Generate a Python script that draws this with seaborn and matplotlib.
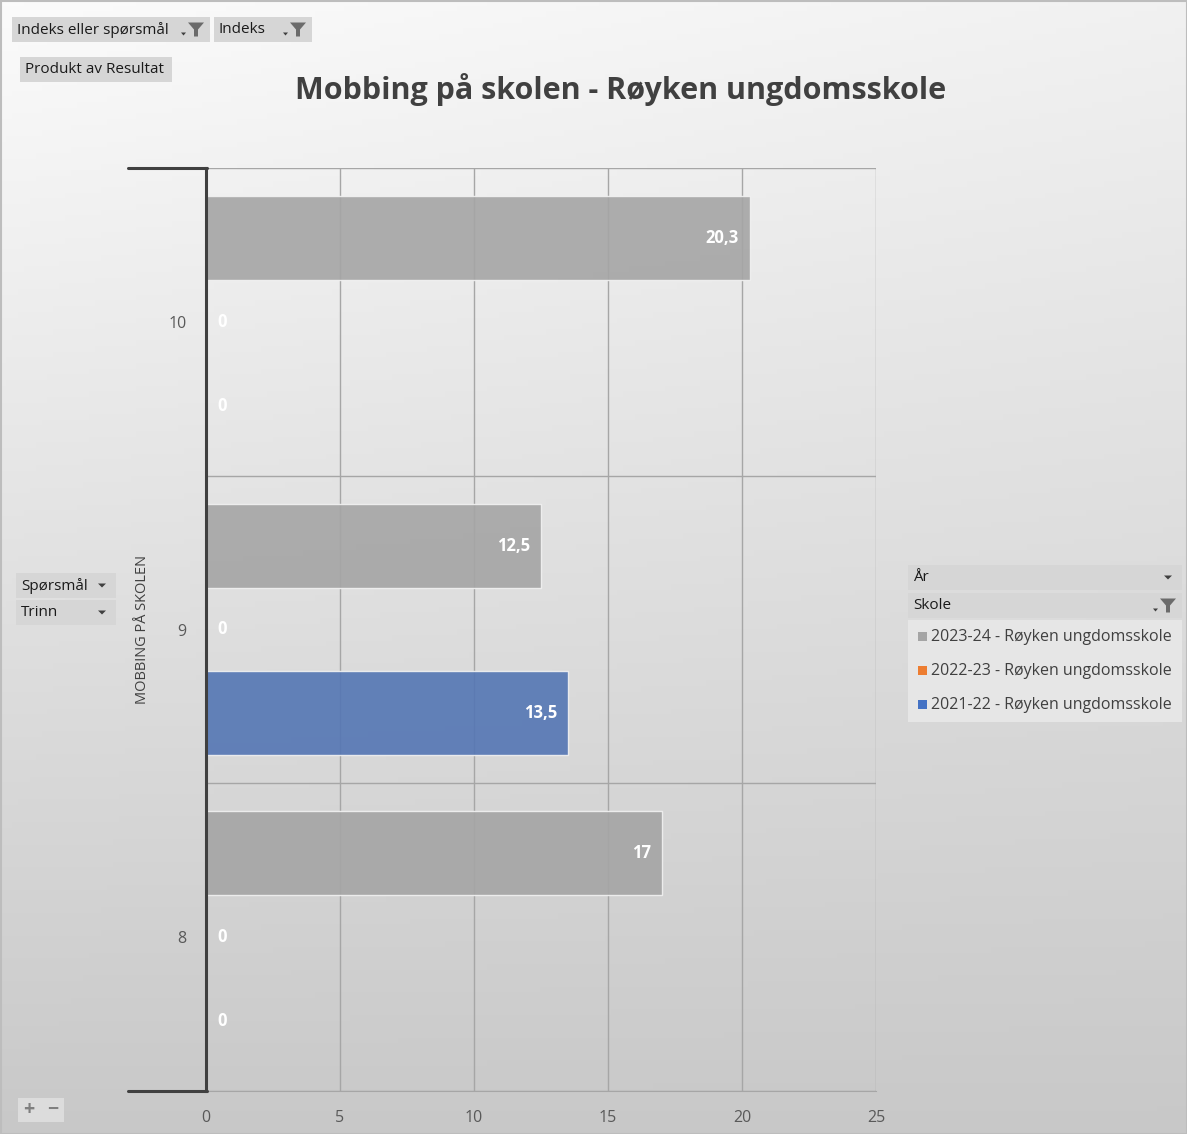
import matplotlib
matplotlib.use("Agg")
import matplotlib.pyplot as plt
import matplotlib.patches as mpatches
from matplotlib.lines import Line2D
import numpy as np
import pandas as pd
import seaborn as sns

# data
trinn = ["10", "9", "8"]
aar = ["2023-24 - Røyken ungdomsskole",
       "2022-23 - Røyken ungdomsskole",
       "2021-22 - Røyken ungdomsskole"]
verdi_2324 = [20.3, 12.5, 17]
verdi_2223 = [0, 0, 0]
verdi_2122 = [0, 13.5, 0]
farger = ["#a5a5a5", "#ed7d31", "#4472c4"]
x_ticks = [0, 5, 10, 15, 20, 25]

rows = []
for serie, vals in zip(aar, [verdi_2324, verdi_2223, verdi_2122]):
    for t, v in zip(trinn, vals):
        rows.append({"Trinn": t, "År": serie, "Verdi": v})
df = pd.DataFrame(rows)

sns.set_style("white")
plt.rcParams["font.family"] = ["Open Sans", "DejaVu Sans"]

W, H = 1187, 1134
fig = plt.figure(figsize=(W / 100, H / 100), dpi=100)

# gradient background (Excel style)
bg = fig.add_axes([0, 0, 1, 1], zorder=-10)
yy, xx = np.mgrid[0:1:200j, 0:1:200j]
val = 0.985 - 0.2 * yy - 0.04 * xx * (1 - yy)
bg.imshow(np.dstack([val, val, val]), extent=[0, 1, 0, 1], aspect="auto",
          origin="upper")
bg.set_axis_off()
fig.patches.append(mpatches.Rectangle((0.5 / W, 0.5 / H), 1 - 1 / W, 1 - 1 / H,
                                      transform=fig.transFigure, fill=False,
                                      edgecolor="#bdbdbd", lw=1.5))

def fx(px):
    return px / W

def fy(py):
    return 1 - py / H

ax = fig.add_axes([fx(206), fy(1091), (876 - 206) / W, (1091 - 168) / H])
ax.patch.set_alpha(0)

sns.barplot(data=df, y="Trinn", x="Verdi", hue="År", order=trinn,
            hue_order=aar, palette=farger, orient="h", width=0.818,
            dodge=True, ax=ax, legend=False, alpha=0.9,
            edgecolor="#f2f2f2", linewidth=1)

ax.set_xlim(0, 25)
ax.set_ylim(2.5, -0.5)
ax.set_xticks(x_ticks)
ax.set_xticklabels([str(t) for t in x_ticks])
ax.set_xlabel("")
ax.set_ylabel("")
ax.tick_params(axis="both", length=0, labelsize=11.5, labelcolor="#595959")
ax.tick_params(axis="x", pad=14)
ax.tick_params(axis="y", pad=14)
ax.set_axisbelow(True)
ax.grid(axis="x", color="#a6a6a6", lw=1)
for b in [-0.5, 0.5, 1.5, 2.5]:
    ax.axhline(b, color="#a6a6a6", lw=1, zorder=0.5)
for s in ["top", "right"]:
    ax.spines[s].set_visible(False)
ax.spines["bottom"].set_color("#a6a6a6")
ax.spines["left"].set_color("#404040")
ax.spines["left"].set_linewidth(2.2)
ax.spines["left"].set_zorder(5)

# bracket lines of the outer category level
for py in [168, 1091]:
    fig.add_artist(Line2D([fx(128), fx(207)], [fy(py), fy(py)],
                          color="#404040", lw=2.2))

# data labels, comma as decimal mark
for p in ax.patches:
    w = p.get_width()
    yc = p.get_y() + p.get_height() / 2
    txt = f"{w:g}".replace(".", ",")
    if w == 0:
        ax.annotate(txt, (0, yc), xytext=(11, 0), textcoords="offset pixels",
                    ha="left", va="center", color="white",
                    fontweight="bold", fontsize=12)
    else:
        ax.annotate(txt, (w, yc), xytext=(-11, 0), textcoords="offset pixels",
                    ha="right", va="center", color="white",
                    fontweight="bold", fontsize=12)

fig.text(fx(143), fy(630), "MOBBING PÅ SKOLEN", rotation=90, ha="center",
         va="center", fontsize=10.5, color="#404040")

fig.text(fx(621), fy(90), "Mobbing på skolen - Røyken ungdomsskole",
         ha="center", va="center", fontsize=22, fontweight="bold",
         color="#404040")

# pivot field buttons
def button(x0, y0, x1, y1, label, icon=None):
    fig.patches.append(mpatches.Rectangle((fx(x0), fy(y1)), fx(x1 - x0),
                                          (y1 - y0) / H,
                                          transform=fig.transFigure,
                                          facecolor="#d6d6d6", edgecolor="none"))
    fig.text(fx(x0 + 5), fy((y0 + y1) / 2), label, ha="left", va="center",
             fontsize=11, color="#1a1a1a", family=["Liberation Sans Narrow",
                                                   "Open Sans", "DejaVu Sans"])
    yc = (y0 + y1) / 2
    if icon == "filter":
        fx0 = x1 - 22
        fig.patches.append(mpatches.Polygon(
            [(fx(fx0), fy(yc - 7)), (fx(fx0 + 16), fy(yc - 7)),
             (fx(fx0 + 10), fy(yc)), (fx(fx0 + 10), fy(yc + 7)),
             (fx(fx0 + 6), fy(yc + 7)), (fx(fx0 + 6), fy(yc))],
            closed=True, transform=fig.transFigure, facecolor="#6b6b6b",
            edgecolor="none"))
        fig.patches.append(mpatches.Polygon(
            [(fx(fx0 - 7), fy(yc + 3)), (fx(fx0 - 2), fy(yc + 3)),
             (fx(fx0 - 4.5), fy(yc + 6))], closed=True,
            transform=fig.transFigure, facecolor="#404040", edgecolor="none"))
    elif icon == "arrow":
        ax0 = x1 - 18
        fig.patches.append(mpatches.Polygon(
            [(fx(ax0), fy(yc - 2)), (fx(ax0 + 8), fy(yc - 2)),
             (fx(ax0 + 4), fy(yc + 2))], closed=True,
            transform=fig.transFigure, facecolor="#404040", edgecolor="none"))

button(12, 17, 210, 42, "Indeks eller spørsmål", "filter")
button(214, 17, 312, 42, "Indeks", "filter")
button(20, 57, 172, 82, "Produkt av Resultat")
button(16, 573, 116, 598, "Spørsmål", "arrow")
button(16, 600, 116, 625, "Trinn", "arrow")
button(908, 565, 1182, 590, "År", "arrow")
button(908, 593, 1182, 618, "Skole", "filter")

# legend panel
fig.patches.append(mpatches.Rectangle((fx(908), fy(722)), fx(274), 102 / H,
                                      transform=fig.transFigure,
                                      facecolor="#e6e6e6", edgecolor="none"))
for i, (lab, c) in enumerate(zip(aar, farger)):
    ly = 637 + 34 * i
    fig.patches.append(mpatches.Rectangle((fx(918), fy(ly + 4)), fx(9), 9 / H,
                                          transform=fig.transFigure,
                                          facecolor=c, edgecolor="none"))
    fig.text(fx(931), fy(ly), lab, ha="left", va="center", fontsize=11.5,
             color="#404040")

# +/- buttons
fig.patches.append(mpatches.Rectangle((fx(18), fy(1122)), fx(46), 24 / H,
                                      transform=fig.transFigure,
                                      facecolor="#dcdcdc", edgecolor="none"))
fig.text(fx(29), fy(1110), "+", ha="center", va="center", fontsize=14,
         color="#7f7f7f", fontweight="bold")
fig.text(fx(53), fy(1110), "−", ha="center", va="center", fontsize=14,
         color="#7f7f7f", fontweight="bold")

fig.savefig("out.png", dpi=100)
